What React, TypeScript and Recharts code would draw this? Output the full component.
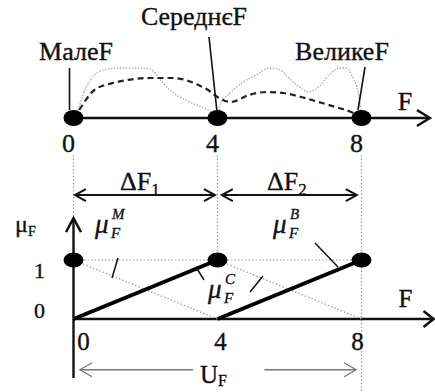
import React from "react"
import { ComposedChart, Line, Scatter, XAxis, YAxis, ReferenceLine, ReferenceDot } from "recharts"

const SERIF = '"Liberation Serif", "Times New Roman", serif'
const W = 435
const H = 392

// axis values
const fTicks = [0, 4, 8]
const muTicks = [0, 1]

// terms of the linguistic variable F and their core values
const termNames = ["МалеF", "СереднєF", "ВеликеF"]
const termCores = [0, 4, 8]

// two sample distributions over F (upper panel)
const sampleDotted = [
  { F: 0, v: 0 }, { F: 0.1, v: 0.13 }, { F: 0.32, v: 0.56 }, { F: 0.58, v: 0.86 },
  { F: 0.84, v: 0.96 }, { F: 1.29, v: 1.0 }, { F: 2.08, v: 0.99 }, { F: 2.24, v: 0.92 },
  { F: 2.42, v: 0.76 }, { F: 2.61, v: 0.6 }, { F: 2.87, v: 0.46 }, { F: 3.29, v: 0.3 },
  { F: 3.82, v: 0.12 }, { F: 4, v: 0 }, { F: 4.09, v: 0.3 }, { F: 4.29, v: 0.46 },
  { F: 4.67, v: 0.7 }, { F: 5.07, v: 0.86 }, { F: 5.45, v: 1.0 }, { F: 5.74, v: 0.96 },
  { F: 6.03, v: 0.76 }, { F: 6.32, v: 0.6 }, { F: 6.52, v: 0.52 }, { F: 6.81, v: 0.62 },
  { F: 7.1, v: 0.86 }, { F: 7.39, v: 1.0 }, { F: 7.57, v: 1.0 }, { F: 7.77, v: 0.8 },
  { F: 7.91, v: 0.5 }, { F: 7.98, v: 0.16 }, { F: 8, v: 0 },
]

const sampleDashed = [
  { F: 0, v: 0 }, { F: 0.1, v: 0.1 }, { F: 0.58, v: 0.56 }, { F: 1.1, v: 0.7 },
  { F: 2.16, v: 0.8 }, { F: 2.76, v: 0.8 }, { F: 3.47, v: 0.66 }, { F: 3.82, v: 0.52 },
  { F: 4.0, v: 0.42 }, { F: 4.38, v: 0.32 }, { F: 4.87, v: 0.46 }, { F: 5.36, v: 0.52 },
  { F: 5.83, v: 0.5 }, { F: 6.32, v: 0.42 }, { F: 6.81, v: 0.32 }, { F: 7.28, v: 0.22 },
  { F: 7.77, v: 0.1 }, { F: 8, v: 0 },
]

// membership functions (lower panel)
const muSmall = [{ F: 0, mu: 1 }, { F: 4, mu: 0 }]
const muMedium = [{ F: 0, mu: 0 }, { F: 4, mu: 1 }, { F: 8, mu: 0 }]
const muLarge = [{ F: 4, mu: 0 }, { F: 8, mu: 1 }]

const topDots = termCores.map((F) => ({ F, v: 0 }))
const coreDots = termCores.map((F) => ({ F, mu: 1 }))

// rows of the annotations, in mu units of the lower chart
const GUIDE_TOP = 2.78
const DELTA_ROW = 2.1
const U_ROW = -0.86
const MU_AXIS_END = 1.71

const INK = "#111"
const GREY = "#999"
// scanned-print look: letters a touch heavier than plain Times
const TXT = { fontFamily: SERIF, fill: INK, stroke: INK, strokeWidth: 0.35 }

function headPoints(tx: number, ty: number, ang: number, len: number, spread: number) {
  const bx = tx - len * Math.cos(ang)
  const by = ty - len * Math.sin(ang)
  const nx = -Math.sin(ang) * spread
  const ny = Math.cos(ang) * spread
  return `${bx + nx},${by + ny} ${tx},${ty} ${bx - nx},${by - ny}`
}

function arrow(heads: "end" | "both", color: string, width: number, len: number, spread: number) {
  return (p: any) => {
    const { x1, y1, x2, y2 } = p
    const ang = Math.atan2(y2 - y1, x2 - x1)
    return (
      <g stroke={color} strokeWidth={width} fill="none">
        <line x1={x1} y1={y1} x2={x2} y2={y2} />
        <polyline points={headPoints(x2, y2, ang, len, spread)} />
        {heads === "both" && <polyline points={headPoints(x1, y1, ang + Math.PI, len, spread)} />}
      </g>
    )
  }
}

function dotted(color: string, width: number, dash: string) {
  return (p: any) => (
    <line x1={p.x1} y1={p.y1} x2={p.x2} y2={p.y2} stroke={color} strokeWidth={width} strokeDasharray={dash} />
  )
}

// draws something next to a point given in data units
function at(render: (cx: number, cy: number) => React.ReactNode) {
  return (p: any) => <g>{render(p.cx, p.cy)}</g>
}

function MuLabel({ x, y, sup }: { x: number; y: number; sup: string }) {
  return (
    <g {...TXT} fontStyle="italic">
      <text x={x} y={y} fontSize={27}>μ</text>
      <text x={x + 17} y={y - 14} fontSize={15}>{sup}</text>
      <text x={x + 16} y={y + 5} fontSize={15}>F</text>
    </g>
  )
}

// label and pointer offsets (px) for each term, relative to its dot
const termLayout = [
  { tx: 2.5, ty: -58, p: [-4, -50, -4, -8] },
  { tx: -23.5, ty: -93, p: [-8.5, -81, -0.5, -6] },
  { tx: -19.5, ty: -58, p: [3.5, -51, -3.5, -8] },
]

const TopTick = (p: any) => (
  <text x={p.x - 5} y={p.y + 34} textAnchor="middle" fontSize={26} {...TXT}>
    {p.payload.value}
  </text>
)

const bottomNudge: Record<number, number> = { 0: 10, 4: 3, 8: -4 }
const BottomTick = (p: any) => (
  <text x={p.x + (bottomNudge[p.payload.value] ?? 0)} y={p.y + 31} textAnchor="middle" fontSize={25} {...TXT}>
    {p.payload.value}
  </text>
)

const muNudge: Record<number, number> = { 0: -1, 1: 18 }
const MuTick = (p: any) => (
  <text x={p.x - 34} y={p.y + (muNudge[p.payload.value] ?? 0)} textAnchor="middle" fontSize={22} {...TXT}>
    {p.payload.value}
  </text>
)

const dotShape = (rx: number, ry: number) => (p: any) => <ellipse cx={p.cx} cy={p.cy} rx={rx} ry={ry} fill="#000" />

function TopPanel() {
  return (
    <ComposedChart width={W} height={H} margin={{ top: 68, right: 73.5, bottom: 244, left: 73.5 }}>
      <XAxis
        type="number"
        dataKey="F"
        domain={[0, 8]}
        ticks={fTicks}
        interval={0}
        axisLine={false}
        tickLine={false}
        tickSize={0}
        tickMargin={0}
        height={30}
        tick={TopTick}
      />
      <YAxis type="number" dataKey="v" domain={[0, 1]} hide />
      <ReferenceLine
        segment={[{ x: 0, y: 0 }, { x: 9.9, y: 0 }]}
        ifOverflow="visible"
        shape={arrow("end", INK, 2.5, 13, 8)}
      />
      <Line data={sampleDotted} dataKey="v" type="monotone" stroke="#aaa" strokeWidth={1.3} strokeDasharray="1.5 1.5" dot={false} isAnimationActive={false} />
      <Line data={sampleDashed} dataKey="v" type="monotone" stroke="#222" strokeWidth={2.2} strokeDasharray="6 4" dot={false} isAnimationActive={false} />
      <Scatter data={topDots} shape={dotShape(10, 8)} isAnimationActive={false} />
      {termCores.map((F, i) => (
        <ReferenceDot
          key={F}
          x={F}
          y={0}
          r={0}
          ifOverflow="visible"
          shape={at((cx, cy) => {
            const l = termLayout[i]
            return (
              <>
                <line x1={cx + l.p[0]} y1={cy + l.p[1]} x2={cx + l.p[2]} y2={cy + l.p[3]} stroke={INK} strokeWidth={1.6} />
                <text x={cx + l.tx} y={cy + l.ty} textAnchor="middle" fontSize={26} {...TXT}>
                  {termNames[i]}
                </text>
              </>
            )
          })}
        />
      ))}
      <ReferenceDot
        x={9.9}
        y={0}
        r={0}
        ifOverflow="visible"
        shape={at((cx, cy) => (
          <text x={cx - 25} y={cy - 8} textAnchor="middle" fontSize={26} {...TXT}>F</text>
        ))}
      />
    </ComposedChart>
  )
}

function BottomPanel() {
  return (
    <ComposedChart width={W} height={H} margin={{ top: 260, right: 73.5, bottom: 43, left: 33.5 }}>
      <XAxis
        type="number"
        dataKey="F"
        domain={[0, 8]}
        ticks={fTicks}
        interval={0}
        axisLine={false}
        tickLine={false}
        tickSize={0}
        tickMargin={0}
        height={30}
        tick={BottomTick}
      />
      <YAxis
        type="number"
        dataKey="mu"
        domain={[0, 1]}
        ticks={muTicks}
        interval={0}
        axisLine={false}
        tickLine={false}
        tickSize={0}
        tickMargin={0}
        width={40}
        tick={MuTick}
      />
      {/* guides dropped from the upper axis */}
      <ReferenceLine segment={[{ x: 0, y: GUIDE_TOP }, { x: 0, y: MU_AXIS_END }]} ifOverflow="visible" shape={dotted(GREY, 1.2, "1.5 2")} />
      <ReferenceLine segment={[{ x: 4, y: GUIDE_TOP }, { x: 4, y: 1 }]} ifOverflow="visible" shape={dotted(GREY, 1.2, "1.5 2")} />
      <ReferenceLine segment={[{ x: 8, y: GUIDE_TOP }, { x: 8, y: -1.24 }]} ifOverflow="visible" shape={dotted(GREY, 1.2, "1.5 2")} />
      <ReferenceLine segment={[{ x: 0, y: 1 }, { x: 8, y: 1 }]} ifOverflow="visible" shape={dotted(GREY, 1.2, "1.5 2")} />

      {/* interval arrows */}
      <ReferenceLine segment={[{ x: 0.04, y: DELTA_ROW }, { x: 3.93, y: DELTA_ROW }]} ifOverflow="visible" shape={arrow("both", INK, 2, 11, 6)} />
      <ReferenceLine segment={[{ x: 4.12, y: DELTA_ROW }, { x: 7.87, y: DELTA_ROW }]} ifOverflow="visible" shape={arrow("both", INK, 2, 11, 6)} />
      <ReferenceLine segment={[{ x: 3.32, y: U_ROW }, { x: 0.18, y: U_ROW }]} ifOverflow="visible" shape={arrow("end", "#777", 1.3, 12, 7)} />
      <ReferenceLine segment={[{ x: 5.3, y: U_ROW }, { x: 7.85, y: U_ROW }]} ifOverflow="visible" shape={arrow("end", "#777", 1.3, 12, 7)} />

      {/* axes */}
      <ReferenceLine segment={[{ x: 0, y: -1 }, { x: 0, y: MU_AXIS_END }]} ifOverflow="visible" shape={arrow("end", INK, 2.4, 14, 7.5)} />
      <ReferenceLine segment={[{ x: 0, y: 0 }, { x: 10, y: 0 }]} ifOverflow="visible" shape={arrow("end", INK, 2.6, 10, 8)} />

      <Line data={muSmall} dataKey="mu" type="linear" stroke={GREY} strokeWidth={1.2} strokeDasharray="1.5 2" dot={false} isAnimationActive={false} />
      <Line data={muMedium.slice(1)} dataKey="mu" type="linear" stroke={GREY} strokeWidth={1.2} strokeDasharray="1.5 2" dot={false} isAnimationActive={false} />
      <Line data={muMedium.slice(0, 2)} dataKey="mu" type="linear" stroke="#000" strokeWidth={4} dot={false} isAnimationActive={false} />
      <Line data={muLarge} dataKey="mu" type="linear" stroke="#000" strokeWidth={4} dot={false} isAnimationActive={false} />
      <Scatter data={coreDots} shape={dotShape(10, 7.5)} isAnimationActive={false} />

      {/* term names of the membership functions */}
      <ReferenceDot
        x={1}
        y={0.75}
        r={0}
        ifOverflow="visible"
        shape={at((cx, cy) => (
          <>
            <line x1={cx + 8.5} y1={cy - 16.75} x2={cx + 2.5} y2={cy + 3.25} stroke={INK} strokeWidth={1.5} />
            <MuLabel x={cx - 14.5} y={cy - 41.75} sup="M" />
          </>
        ))}
      />
      <ReferenceDot
        x={4}
        y={0}
        r={0}
        ifOverflow="visible"
        shape={at((cx, cy) => (
          <>
            <line x1={cx - 21.5} y1={cy - 52} x2={cx - 13.5} y2={cy - 39} stroke={INK} strokeWidth={1.5} />
            <line x1={cx + 45.5} y1={cy - 43} x2={cx + 32.5} y2={cy - 27} stroke={INK} strokeWidth={1.5} />
            <MuLabel x={cx - 9.5} y={cy - 21} sup="C" />
          </>
        ))}
      />
      <ReferenceDot
        x={7.3}
        y={0.825}
        r={0}
        ifOverflow="visible"
        shape={at((cx, cy) => (
          <>
            <line x1={cx - 21.3} y1={cy - 27.3} x2={cx + 1.7} y2={cy - 3.3} stroke={INK} strokeWidth={1.5} />
            <MuLabel x={cx - 63.3} y={cy - 37.3} sup="B" />
          </>
        ))}
      />

      {/* axis names */}
      <ReferenceDot
        x={0}
        y={MU_AXIS_END}
        r={0}
        ifOverflow="visible"
        shape={at((cx, cy) => (
          <text x={cx - 58.5} y={cy + 14} fontSize={24} {...TXT}>
            μ<tspan fontSize={14} dy={4}>F</tspan>
          </text>
        ))}
      />
      <ReferenceDot
        x={10}
        y={0}
        r={0}
        ifOverflow="visible"
        shape={at((cx, cy) => (
          <text x={cx - 28} y={cy - 12} textAnchor="middle" fontSize={25} {...TXT}>F</text>
        ))}
      />
      <ReferenceDot
        x={4}
        y={U_ROW}
        r={0}
        ifOverflow="visible"
        shape={at((cx, cy) => (
          <text x={cx - 17.5} y={cy + 13.3} fontSize={25} {...TXT}>
            U<tspan fontSize={16} dy={3}>F</tspan>
          </text>
        ))}
      />
      <ReferenceDot
        x={1.985}
        y={DELTA_ROW}
        r={0}
        ifOverflow="visible"
        shape={at((cx, cy) => (
          <text x={cx - 25} y={cy - 5} fontSize={26} {...TXT}>
            ΔF<tspan fontSize={17} dy={5}>1</tspan>
          </text>
        ))}
      />
      <ReferenceDot
        x={6.0}
        y={DELTA_ROW}
        r={0}
        ifOverflow="visible"
        shape={at((cx, cy) => (
          <text x={cx - 22.5} y={cy - 5} fontSize={26} {...TXT}>
            ΔF<tspan fontSize={17} dy={5}>2</tspan>
          </text>
        ))}
      />
    </ComposedChart>
  )
}

export default function App() {
  return (
    <div style={{ position: "absolute", left: 0, top: 0, width: W, height: H, background: "#fff" }}>
      <div style={{ position: "absolute", left: 0, top: 0 }}>
        <TopPanel />
      </div>
      <div style={{ position: "absolute", left: 0, top: 0 }}>
        <BottomPanel />
      </div>
    </div>
  )
}
